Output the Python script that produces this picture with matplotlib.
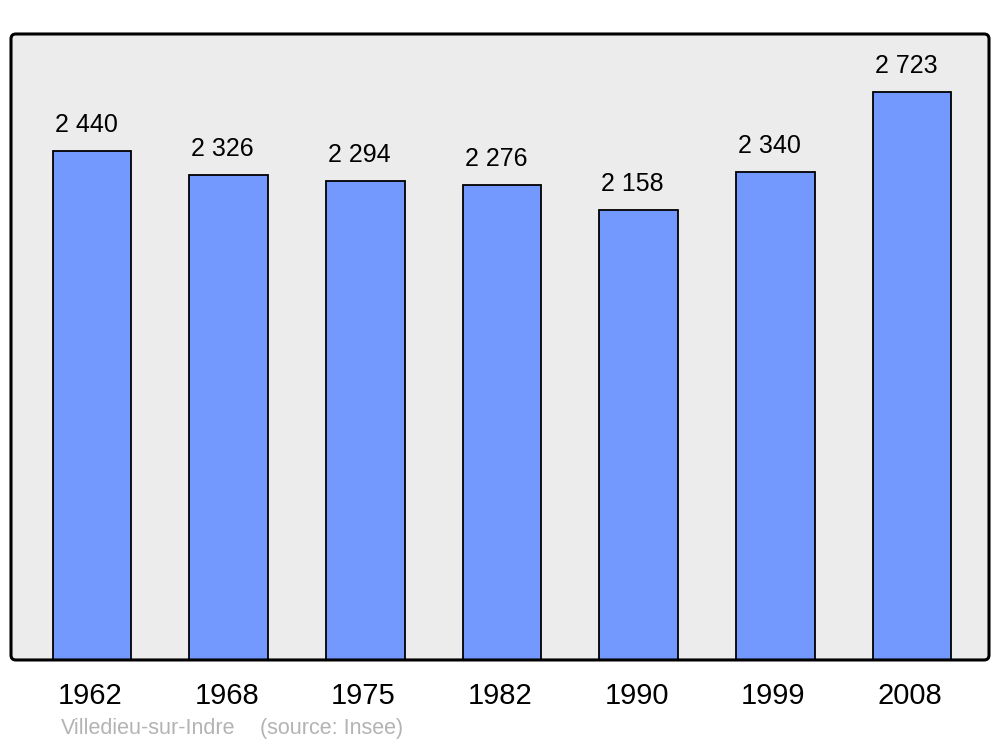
import matplotlib.pyplot as plt
from matplotlib.patches import FancyBboxPatch
from matplotlib.transforms import ScaledTranslation

plt.rcParams['font.family'] = ['Liberation Sans', 'DejaVu Sans']

years = ['1962', '1968', '1975', '1982', '1990', '1999', '2008']
population = [2440, 2326, 2294, 2276, 2158, 2340, 2723]
labels = ['2 440', '2 326', '2 294', '2 276', '2 158', '2 340', '2 723']

fig = plt.figure(figsize=(10, 7.47), dpi=100)
ax = fig.add_axes([0.011, 0.1165, 0.978, 0.838])
ax.patch.set_visible(False)
for s in ax.spines.values():
    s.set_visible(False)

# rounded frame
bg = FancyBboxPatch((0, 0), 1, 1, boxstyle='round,pad=0,rounding_size=0.005',
                    mutation_aspect=1.56, transform=ax.transAxes,
                    facecolor='#ececec', edgecolor='none', zorder=0, clip_on=False)
ax.add_patch(bg)
frame = FancyBboxPatch((0, 0), 1, 1, boxstyle='round,pad=0,rounding_size=0.005',
                       mutation_aspect=1.56, transform=ax.transAxes,
                       facecolor='none', edgecolor='black', linewidth=2.2,
                       zorder=5, clip_on=False)
ax.add_patch(frame)

x = list(range(len(years)))
ax.bar(x, population, width=0.575, color='#7399ff', edgecolor='black', linewidth=1.3, zorder=2)

for xi, v, lab in zip(x, population, labels):
    ax.annotate(lab, (xi, v), xytext=(-4.3, 10), textcoords='offset points',
                ha='center', va='bottom', fontsize=18)

ax.set_xlim(-0.593, 6.563)
ax.set_ylim(0, 3000)
ax.set_yticks([])
ax.set_xticks(x)
ax.set_xticklabels(years, fontsize=21)
ax.tick_params(axis='x', length=0, pad=16)
shift = ScaledTranslation(-1.5 / 72, 0, fig.dpi_scale_trans)
for t in ax.get_xticklabels():
    t.set_transform(t.get_transform() + shift)

fig.text(0.061, 0.011, 'Villedieu-sur-Indre', color='#b3b3b3', fontsize=15.5, va='bottom')
fig.text(0.26, 0.011, '(source: Insee)', color='#b3b3b3', fontsize=15.5, va='bottom')

plt.savefig('out.png', dpi=100)
